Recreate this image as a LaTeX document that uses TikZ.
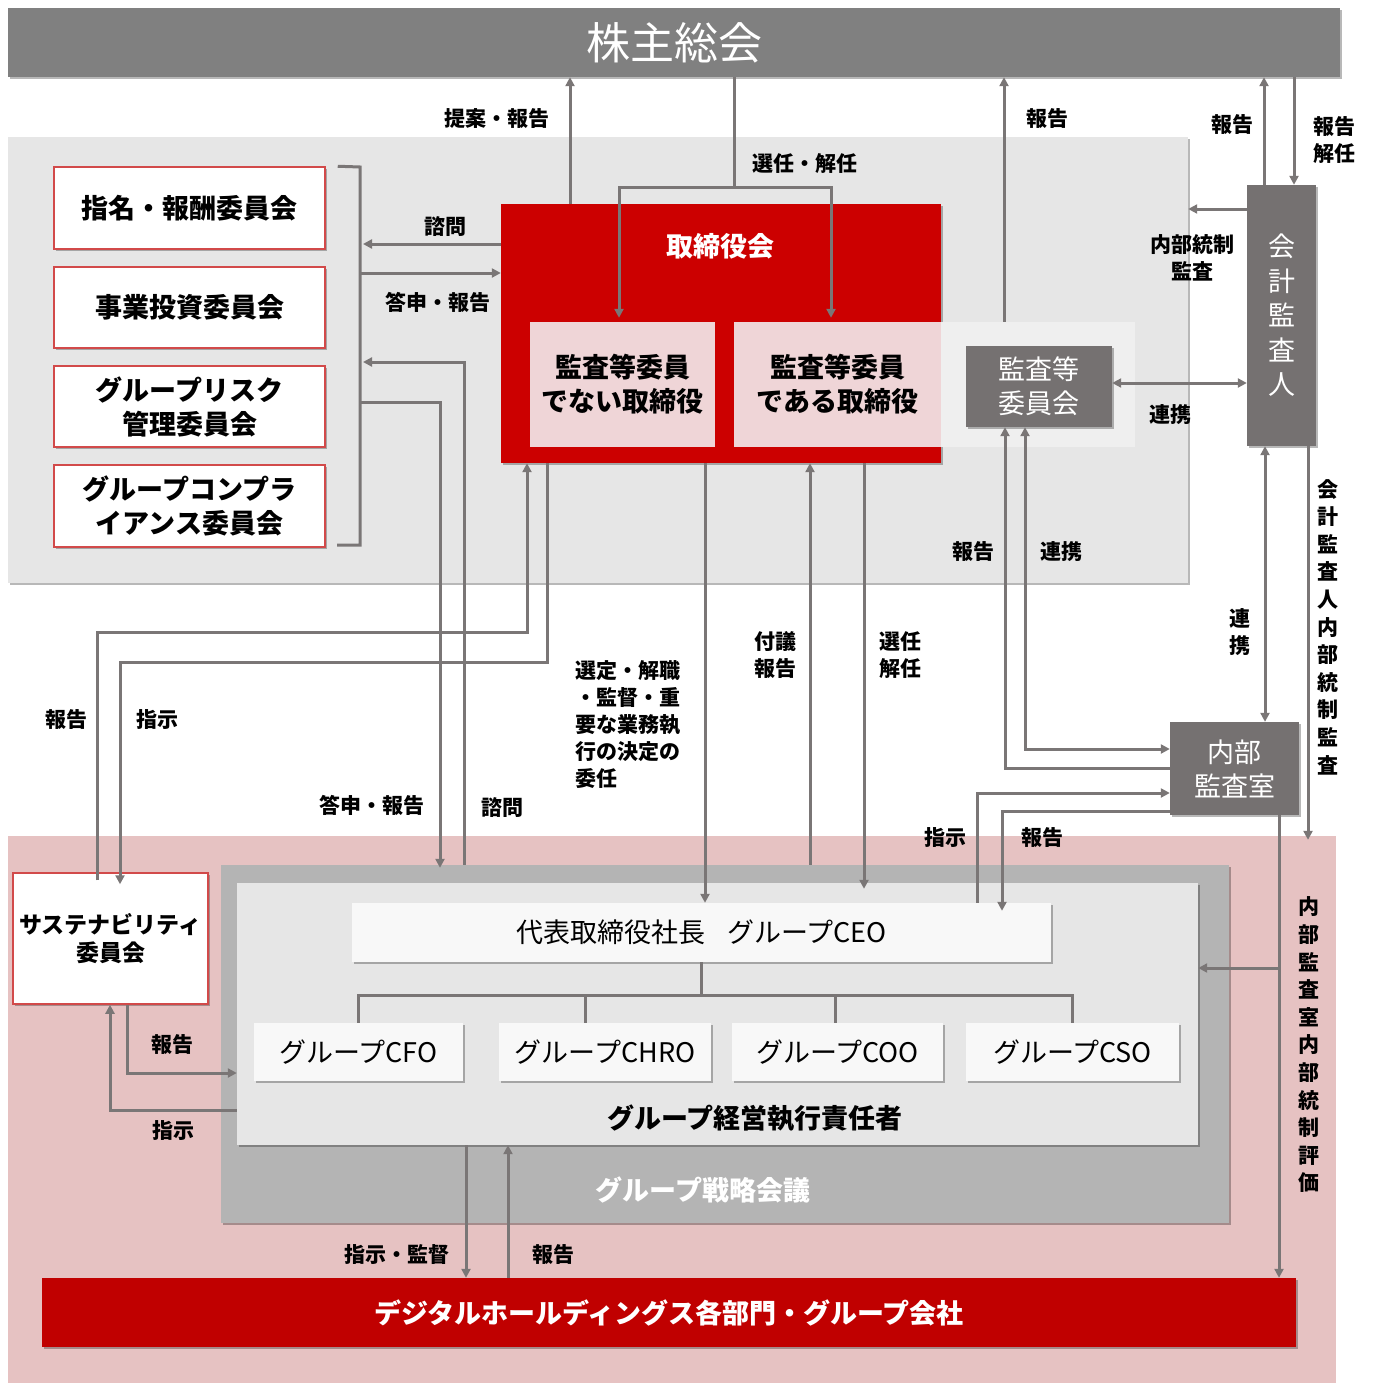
\documentclass[tikz,border=0pt]{standalone}
\usepackage{fontspec}
\setmainfont{Noto Sans CJK JP}
\usetikzlibrary{arrows.meta,shadows}
\definecolor{topgray}{HTML}{808080}
\definecolor{areagray}{HTML}{E6E6E6}
\definecolor{boardred}{HTML}{CC0000}
\definecolor{innerpink}{HTML}{EFD5D7}
\definecolor{innerlight}{HTML}{EFEFEF}
\definecolor{darkbox}{HTML}{757171}
\definecolor{lowpink}{HTML}{E6C2C2}
\definecolor{stratgray}{HTML}{B4B4B4}
\definecolor{cxobox}{HTML}{F8F8F8}
\definecolor{botred}{HTML}{C00000}
\definecolor{linec}{HTML}{7A7676}
\definecolor{comborder}{HTML}{D24A4A}
\newcommand{\fsTitle}{\fontsize{44}{50}\selectfont}
\newcommand{\fsBox}{\fontsize{27}{34}\selectfont\bfseries}
\newcommand{\fsBoxR}{\fontsize{27}{34}\selectfont}
\newcommand{\fsSus}{\fontsize{23}{28}\selectfont\bfseries}
\newcommand{\fsLbl}{\fontsize{21}{27}\selectfont\bfseries}
\newcommand{\fsVert}{\fontsize{21}{27.6}\selectfont\bfseries}
\newcommand{\fsKai}{\fontsize{27}{34.5}\selectfont}
\begin{document}
\begin{tikzpicture}[x=1pt,y=-1pt,
  box/.style={draw=none, inner sep=0pt, align=center},
  shad/.style={drop shadow={shadow xshift=2pt,shadow yshift=-2pt,opacity=.28,fill=black}},
  combox/.style={box, fill=white, draw=comborder, line width=1.5pt, minimum width=271, shad, font=\fsBox},
  cxo/.style={box, fill=cxobox, minimum height=58, shad, font=\fsBoxR},
  ln/.style={draw=linec, line width=3pt},
  arr/.style={ln, -{Triangle[length=9pt,width=9pt]}},
  dbl/.style={ln, {Triangle[length=9pt,width=9pt]}-{Triangle[length=9pt,width=9pt]}},
  lbl/.style={inner sep=0pt, font=\fsLbl, align=center},
  vlbl/.style={inner sep=0pt, font=\fsVert, align=center}
]
\useasboundingbox (0,0) rectangle (1373,1383);
\fill[white] (0,0) rectangle (1373,1383);

% background areas
\node[box, fill=areagray, minimum width=1180, minimum height=446, shad] (boardarea) at (598,360) {};
\node[box, fill=lowpink, minimum width=1328, minimum height=547] (pinkarea) at (672,1109.5) {};
\node[box, fill=topgray, minimum width=1332, minimum height=69, text=white, font=\fsTitle, shad] (top) at (674,42.5) {株主総会};

% committees
\node[combox, minimum height=82] (c1) at (189.5,208) {指名・報酬委員会};
\node[combox, minimum height=81] (c2) at (189.5,307.5) {事業投資委員会};
\node[combox, minimum height=81] (c3) at (189.5,406.5) {グループリスク\\管理委員会};
\node[combox, minimum height=82] (c4) at (189.5,506) {グループコンプラ\\イアンス委員会};
\draw[ln] (c1.north east) ++(12,0) coordinate (bk1) -- (360,167) -- (360,545) -- (337,545) coordinate (bk2);

% board of directors
\node[box, fill=boardred, minimum width=440, minimum height=259, shad] (board) at (721,333.5) {};
\node[inner sep=0pt, text=white, font=\fsBox] (boardtitle) at (720,246) {取締役会};
\node[box, fill=innerpink, minimum width=185, minimum height=125, font=\fsBoxR\bfseries] (nonaudit) at (622.5,384.5) {監査等委員\\でない取締役};
\node[box, fill=innerlight, minimum width=401, minimum height=125] (auditzone) at (934.5,384.5) {};
\node[box, fill=innerpink, minimum width=207, minimum height=125, font=\fsBoxR\bfseries] (auditdir) at (837.5,384.5) {監査等委員\\である取締役};
\node[box, fill=darkbox, minimum width=146, minimum height=81, text=white, font=\fsBoxR, shad] (auditcom) at (1039,386.5) {監査等\\委員会};

% accounting auditor and internal audit
\node[box, fill=darkbox, minimum width=69, minimum height=261, text=white, font=\fsKai, shad] (kaikei) at (1281.5,315.5) {会\\計\\監\\査\\人};
\node[box, fill=darkbox, minimum width=129, minimum height=93, text=white, font=\fsBoxR, shad] (naibu) at (1234.5,768.5) {内部\\監査室};

% execution side
\node[box, fill=stratgray, minimum width=1008, minimum height=358, shad] (strategy) at (725,1044) {};
\node[inner sep=0pt, text=white, font=\fsBox] (strattitle) at (703,1190) {グループ戦略会議};
\node[box, fill=areagray, minimum width=961, minimum height=262, shad] (exec) at (717.5,1014) {};
\node[inner sep=0pt, font=\fsBoxR\bfseries] (exectitle) at (755,1118) {グループ経営執行責任者};
\node[cxo, minimum width=699, minimum height=59] (ceo) at (701.5,932.5) {代表取締役社長\hspace{0.8em}グループCEO};
\node[cxo, minimum width=209] (cfo) at (358.5,1052) {グループCFO};
\node[cxo, minimum width=212] (chro) at (605,1052) {グループCHRO};
\node[cxo, minimum width=211] (coo) at (837.5,1052) {グループCOO};
\node[cxo, minimum width=213] (cso) at (1072.5,1052) {グループCSO};
\node[box, fill=white, draw=comborder, line width=1.5pt, minimum width=195, minimum height=131, font=\fsSus, shad] (sust) at (110.5,938.5) {サステナビリティ\\委員会};
\node[box, fill=botred, minimum width=1254, minimum height=69, text=white, font=\fsBox, shad] (bottom) at (669,1312.5) {デジタルホールディングス各部門・グループ会社};

% tree
\draw[ln] (ceo.south) -- (701.5,995);
\draw[ln] (cfo.north) -- (358.5,995) -- (1072.5,995) -- (cso.north);
\draw[ln] (chro.north -| 585,0) -- (585,995);
\draw[ln] (coo.north -| 835,0) -- (835,995);

% connectors top
\draw[arr] (board.north -| 570,0) -- (top.south -| 570,0);
\draw[arr] (top.south -| 734,0) -- (734,188) -| ([yshift=4pt]nonaudit.north -| 619,0);
\draw[arr] (734,188) -| ([yshift=4pt]auditdir.north -| 831,0);
\draw[arr] (auditzone.north -| 1004,0) -- (top.south -| 1004,0);
\draw[arr] (kaikei.north -| 1264,0) -- (top.south -| 1264,0);
\draw[arr] (top.south -| 1294,0) -- (kaikei.north -| 1294,0);
\draw[arr] (kaikei.west |- 0,209) -- (boardarea.east |- 0,209);
\draw[dbl] (auditcom.east |- 0,383) -- (kaikei.west |- 0,383);
\draw[arr] (board.west |- 0,244) -- (363,244);
\draw[arr] (360,273) -- (board.west |- 0,273);

% committee to execution
\draw[arr] (strategy.north -| 464,0) -- (464,362) -- (363,362);
\draw[arr] (360,402) -| ([yshift=-3pt]strategy.north -| 440,0);

% sustainability
\draw[arr] ([yshift=-8pt]sust.north -| 97,0) -- (97,632) -| (board.south -| 527,0);
\draw[arr] (board.south -| 547,0) -- (547,662) -| ([yshift=-12pt]sust.north -| 120,0);
\draw[arr] (sust.south -| 127,0) |- (exec.west |- 0,1073);
\draw[arr] (exec.west |- 0,1110) -| (sust.south -| 110,0);

% board to execution
\draw[arr] (board.south -| 705,0) -- (ceo.north -| 705,0);
\draw[arr] (strategy.north -| 810,0) -- (board.south -| 810,0);
\draw[arr] (board.south -| 864,0) -- ([yshift=-6pt]exec.north -| 864,0);

% audit committee and internal audit
\draw[arr] (naibu.west |- 0,768) -| (auditcom.south -| 1005,0);
\draw[dbl] (auditcom.south -| 1025,0) |- (naibu.west |- 0,749);
\draw[arr] (ceo.north -| 977,0) |- (naibu.west |- 0,793);
\draw[arr] (naibu.west |- 0,811) -| ([yshift=-8pt]ceo.north -| 1002,0);
\draw[dbl] (kaikei.south -| 1265,0) -- (naibu.north -| 1265,0);
\draw[arr] (kaikei.south -| 1308,0) -- ([yshift=-4pt]pinkarea.north -| 1308,0);
\draw[arr] (naibu.south -| 1279,0) -- (bottom.north -| 1279,0);
\draw[arr] (1279,968) -- (exec.east |- 0,968);

% execution to group companies
\draw[arr] (exec.south -| 466,0) -- (bottom.north -| 466,0);
\draw[arr] (bottom.north -| 508,0) -- (exec.south -| 508,0);

% labels
\node[lbl] (l01) at (497,119) {提案・報告};
\node[lbl] (l02) at (805,164) {選任・解任};
\node[lbl] (l03) at (1047,119) {報告};
\node[lbl] (l04) at (1232,125) {報告};
\node[lbl] (l05) at (1334,140) {報告\\解任};
\node[lbl] (l06) at (1192,258) {内部統制\\監査};
\node[lbl] (l07) at (445,227) {諮問};
\node[lbl] (l08) at (438,302) {答申・報告};
\node[lbl] (l09) at (1170,415) {連携};
\node[lbl] (l10) at (973,552) {報告};
\node[lbl] (l11) at (1061,552) {連携};
\node[lbl] (l12) at (66,720) {報告};
\node[lbl] (l13) at (157,720) {指示};
\node[lbl, align=left, anchor=north west] (l14) at (575,660) {選定・解職\\・監督・重\\要な業務執\\行の決定の\\委任};
\node[lbl] (l15) at (775,655) {付議\\報告};
\node[lbl] (l16) at (900,655) {選任\\解任};
\node[lbl] (l17) at (1240,632) {連\\携};
\node[vlbl] (l18) at (1328,627) {会\\計\\監\\査\\人\\内\\部\\統\\制\\監\\査};
\node[lbl] (l19) at (372,805) {答申・報告};
\node[lbl] (l20) at (502,808) {諮問};
\node[lbl] (l21) at (945,838) {指示};
\node[lbl] (l22) at (1042,838) {報告};
\node[vlbl] (l23) at (1309,1045) {内\\部\\監\\査\\室\\内\\部\\統\\制\\評\\価};
\node[lbl] (l24) at (172,1045) {報告};
\node[lbl] (l25) at (173,1131) {指示};
\node[lbl] (l26) at (397,1255) {指示・監督};
\node[lbl] (l27) at (553,1255) {報告};
\end{tikzpicture}
\end{document}
